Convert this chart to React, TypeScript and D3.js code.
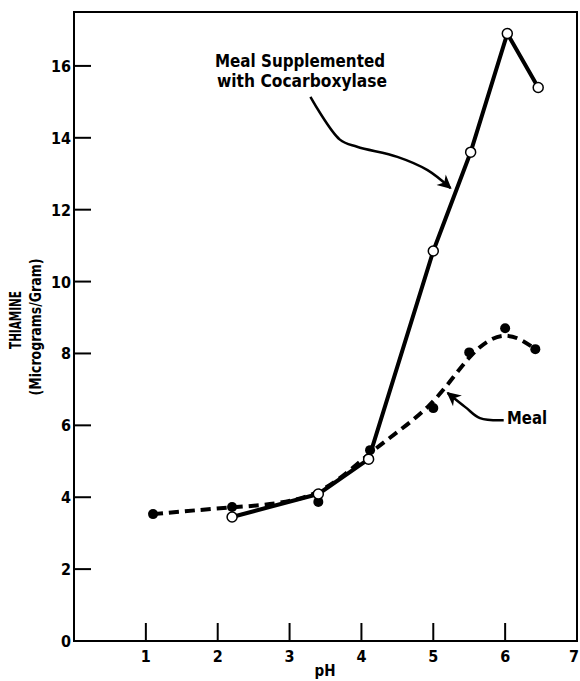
import React from 'react';
import * as d3 from 'd3';

// Meal (filled points, dashed curve)
const phMeal = [1.1, 2.2, 3.4, 4.12, 5.0, 5.5, 6.0, 6.42];
const thiamineMeal = [3.53, 3.73, 3.87, 5.31, 6.48, 8.03, 8.7, 8.12];

// Meal supplemented with cocarboxylase (open points, solid line)
const phSupp = [2.2, 3.4, 4.1, 5.0, 5.52, 6.03, 6.46];
const thiamineSupp = [3.45, 4.09, 5.06, 10.85, 13.6, 16.9, 15.4];

const xTicks = [1, 2, 3, 4, 5, 6, 7];
const yTicks = [0, 2, 4, 6, 8, 10, 12, 14, 16];

const FONT = '"DejaVu Sans Condensed", "Liberation Sans Narrow", "Roboto Condensed", sans-serif';

const width = 580, height = 681;
const x = d3.scaleLinear().domain([0, 7]).range([74, 577]);
const y = d3.scaleLinear().domain([0, 17.5]).range([641, 12]);

export default function App() {
  const meal = phMeal.map((p, i) => [p, thiamineMeal[i]] as [number, number]);
  const supp = phSupp.map((p, i) => [p, thiamineSupp[i]] as [number, number]);

  // the dashed meal curve is a smoothed trend through the points
  const mealPath = d3.line<[number, number]>().x(d => x(d[0])).y(d => y(d[1])).curve(d3.curveBasis)(meal) || '';
  const suppPath = d3.line<[number, number]>().x(d => x(d[0])).y(d => y(d[1])).curve(d3.curveLinear)(supp) || '';

  // annotation arrows, in data coordinates
  const arrow1: [number, number][] = [[3.29, 15.14], [3.7, 13.95], [3.94, 13.75], [4.5, 13.47], [4.92, 13.1], [5.24, 12.6]];
  const arrow2: [number, number][] = [[5.98, 6.14], [5.65, 6.2], [5.45, 6.5], [5.2, 6.9]];
  const smooth = d3.line<[number, number]>().x(d => x(d[0])).y(d => y(d[1])).curve(d3.curveCatmullRom);

  return (
    <div style={{ position: 'absolute', left: 0, top: 0 }}>
      <svg width={width} height={height} style={{ display: 'block', background: '#fff' }}>
        <defs>
          <marker id="head" viewBox="0 0 10 10" refX="9" refY="5" markerWidth="18" markerHeight="14"
            markerUnits="userSpaceOnUse" orient="auto">
            <path d="M0,0 L10,5 L0,10 L3,5 Z" fill="#000" />
          </marker>
        </defs>

        {/* frame */}
        <rect x={x(0)} y={y(17.5)} width={x(7) - x(0)} height={y(0) - y(17.5)}
          fill="none" stroke="#000" strokeWidth={2} />

        {/* y ticks */}
        {yTicks.map(t => (
          <g key={'y' + t}>
            {t > 0 && <line x1={x(0)} x2={x(0) + 17} y1={y(t)} y2={y(t)} stroke="#000" strokeWidth={2} />}
            <text x={71} y={y(t) + 6} textAnchor="end" fontFamily={FONT} fontWeight="bold" fontSize={16}>{t}</text>
          </g>
        ))}

        {/* x ticks */}
        {xTicks.map(t => (
          <g key={'x' + t}>
            {t < 7 && <line x1={x(t)} x2={x(t)} y1={y(0)} y2={y(0) - 18} stroke="#000" strokeWidth={2} />}
            <text x={t === 7 ? 574 : x(t)} y={662} textAnchor="middle" fontFamily={FONT} fontWeight="bold" fontSize={16}>{t}</text>
          </g>
        ))}

        <text x={325} y={676} textAnchor="middle" fontFamily={FONT} fontWeight="bold" fontSize={15}>pH</text>

        <text transform={`translate(21,320) rotate(-90)`} textAnchor="middle" fontFamily={FONT}
          fontWeight="bold" fontSize={15} textLength={58} lengthAdjust="spacingAndGlyphs">THIAMINE</text>
        <text transform={`translate(41,327) rotate(-90)`} textAnchor="middle" fontFamily={FONT}
          fontWeight="bold" fontSize={15} textLength={137} lengthAdjust="spacingAndGlyphs">(Micrograms/Gram)</text>

        {/* series */}
        <path d={mealPath} fill="none" stroke="#000" strokeWidth={4} strokeDasharray="10,6" />
        <path d={suppPath} fill="none" stroke="#000" strokeWidth={4} strokeLinejoin="round" />

        {meal.map((d, i) => (
          <circle key={'m' + i} cx={x(d[0])} cy={y(d[1])} r={5} fill="#000" />
        ))}
        {supp.map((d, i) => (
          <circle key={'s' + i} cx={x(d[0])} cy={y(d[1])} r={5} fill="#fff" stroke="#000" strokeWidth={1.5} />
        ))}

        {/* annotations */}
        <text x={300} y={67} textAnchor="middle" fontFamily={FONT} fontWeight="bold" fontSize={18}
          textLength={170} lengthAdjust="spacingAndGlyphs">Meal Supplemented</text>
        <text x={302} y={87} textAnchor="middle" fontFamily={FONT} fontWeight="bold" fontSize={18}
          textLength={170} lengthAdjust="spacingAndGlyphs">with Cocarboxylase</text>
        <path d={smooth(arrow1) || ''} fill="none" stroke="#000" strokeWidth={2.5} markerEnd="url(#head)" />

        <text x={507} y={424} fontFamily={FONT} fontWeight="bold" fontSize={18}
          textLength={40} lengthAdjust="spacingAndGlyphs">Meal</text>
        <path d={smooth(arrow2) || ''} fill="none" stroke="#000" strokeWidth={2.5} markerEnd="url(#head)" />
      </svg>
    </div>
  );
}
